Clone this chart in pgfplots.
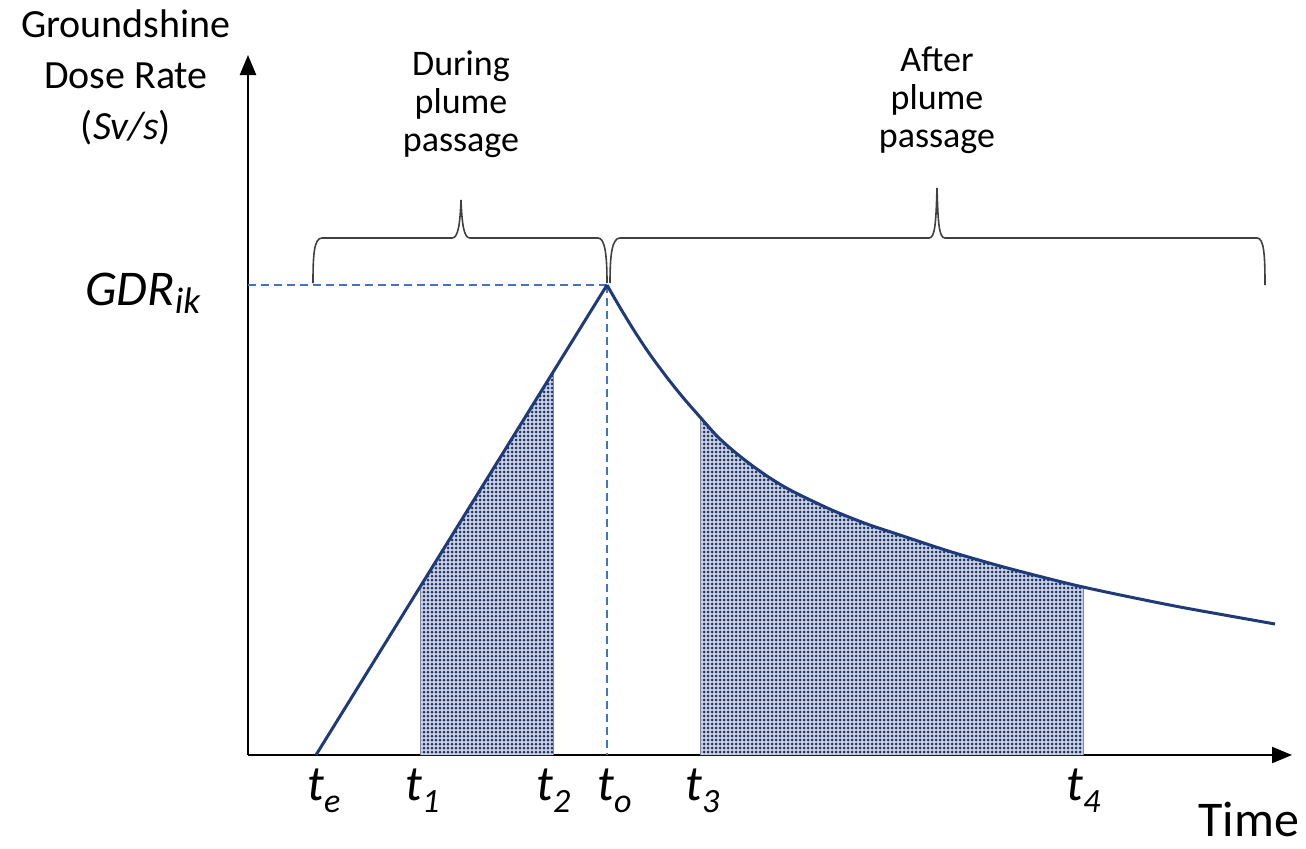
\documentclass[border=0pt]{standalone}
\usepackage{pgfplots}
\pgfplotsset{compat=1.18}
\usepackage{fontspec}
\setmainfont{Carlito}
\usetikzlibrary{arrows.meta,patterns.meta}
\definecolor{navy}{HTML}{1F3A78}
\definecolor{dotblue}{HTML}{1A3370}
\definecolor{dashblue}{HTML}{4472C4}
\definecolor{bracegray}{HTML}{404040}
\newcommand{\tlab}[2]{t\raisebox{-6pt}{\fontsize{17}{17}\selectfont #2}}
\begin{document}
\begin{tikzpicture}
\begin{axis}[
  x=0.5pt, y=0.5pt,
  xmin=248, xmax=1292, ymin=0, ymax=700,
  axis lines=left,
  axis line style={line width=1.2pt, -{Triangle[length=10pt,width=8pt]}},
  xtick=\empty, ytick=\empty,
  clip=false,
]
\path (axis cs:0,-93) rectangle (axis cs:1306,755);
% shaded areas: light tint + dots
\addplot[draw=none, fill=dotblue!22]
  coordinates {(420,168) (553,383)} \closedcycle;
\addplot[draw=none, fill=dotblue!22, smooth]
  coordinates {(700,338) (717,319) (733,304.5) (750,291) (767,279) (783,269) (800,260)
  (833,244.5) (867,231) (900,220) (950,203.5) (1000,189) (1050,176) (1083,168)} \closedcycle;
\addplot[draw=none, pattern={Dots[distance=2pt,radius=0.75pt]}, pattern color=dotblue]
  coordinates {(420,168) (553,383)} \closedcycle;
\addplot[draw=none, pattern={Dots[distance=2pt,radius=0.75pt]}, pattern color=dotblue, smooth]
  coordinates {(700,338) (717,319) (733,304.5) (750,291) (767,279) (783,269) (800,260)
  (833,244.5) (867,231) (900,220) (950,203.5) (1000,189) (1050,176) (1083,168)} \closedcycle;
\addplot[navy!60, line width=0.5pt] coordinates {(420,0) (420,168)};
\addplot[navy!60, line width=0.5pt] coordinates {(553,0) (553,383)};
\addplot[navy!60, line width=0.5pt] coordinates {(700,0) (700,338)};
\addplot[navy!60, line width=0.5pt] coordinates {(1083,0) (1083,168)};
% dashed guides
\addplot[dashblue, line width=0.7pt, dash pattern=on 4pt off 2.5pt] coordinates {(248,470) (607,470)};
\addplot[dashblue, line width=0.7pt, dash pattern=on 4pt off 2.5pt] coordinates {(607,470) (607,0)};
% curves
\addplot[navy, line width=1.5pt, line join=miter] coordinates {(316,0) (607,470)};
\addplot[navy, line width=1.5pt, smooth] coordinates {(607,470) (620,447.5) (635,423) (650,400.5) (667,377.5) (683,357.5)
  (700,338) (717,319) (733,304.5) (750,291) (767,279) (783,269) (800,260)
  (833,244.5) (867,231) (900,220) (950,203.5) (1000,189) (1050,176) (1083,168)
  (1130,158) (1180,148) (1230,139) (1275,131)};
% braces
\draw[bracegray, line width=0.8pt] (axis cs:313,472) .. controls (axis cs:313,500) and (axis cs:314,517) .. (axis cs:322,517)
  -- (axis cs:452,517) .. controls (axis cs:458,517) and (axis cs:460,530) .. (axis cs:461,555)
  .. controls (axis cs:462,530) and (axis cs:464,517) .. (axis cs:470,517)
  -- (axis cs:598,517) .. controls (axis cs:605,517) and (axis cs:607,500) .. (axis cs:607,472);
\draw[bracegray, line width=0.8pt] (axis cs:610,472) .. controls (axis cs:610,500) and (axis cs:612,517) .. (axis cs:620,517)
  -- (axis cs:929,517) .. controls (axis cs:935,517) and (axis cs:936,532) .. (axis cs:937,567)
  .. controls (axis cs:938,532) and (axis cs:939,517) .. (axis cs:945,517)
  -- (axis cs:1257,517) .. controls (axis cs:1264,517) and (axis cs:1265,500) .. (axis cs:1265,470);
% texts
\node[align=center, font=\fontsize{20}{25.5}\selectfont] at (axis cs:126,678) {Groundshine\\Dose Rate\\(\textit{Sv/s})};
\node[anchor=base west, inner sep=0pt, font=\fontsize{25}{30}\selectfont\itshape] at (axis cs:85,450) {GDR\raisebox{-4pt}{\fontsize{18.5}{18.5}\selectfont ik}};
\node[align=center, font=\fontsize{18}{19}\selectfont] at (axis cs:461,651) {During\\plume\\passage};
\node[align=center, font=\fontsize{18}{19}\selectfont] at (axis cs:937,655) {After\\plume\\passage};
\begin{scope}[every node/.style={anchor=base west, inner sep=0pt, font=\fontsize{25}{30}\selectfont\itshape}]
\node at (axis cs:307,-45) {\tlab{}{e}};
\node at (axis cs:405,-45) {\tlab{}{1}};
\node at (axis cs:536,-45) {\tlab{}{2}};
\node at (axis cs:597,-45) {\tlab{}{o}};
\node at (axis cs:685,-45) {\tlab{}{3}};
\node at (axis cs:1066,-45) {\tlab{}{4}};
\end{scope}
\node[anchor=base west, inner sep=0pt, font=\fontsize{25}{30}\selectfont] at (axis cs:1198,-81) {Time};
\end{axis}
\end{tikzpicture}
\end{document}
